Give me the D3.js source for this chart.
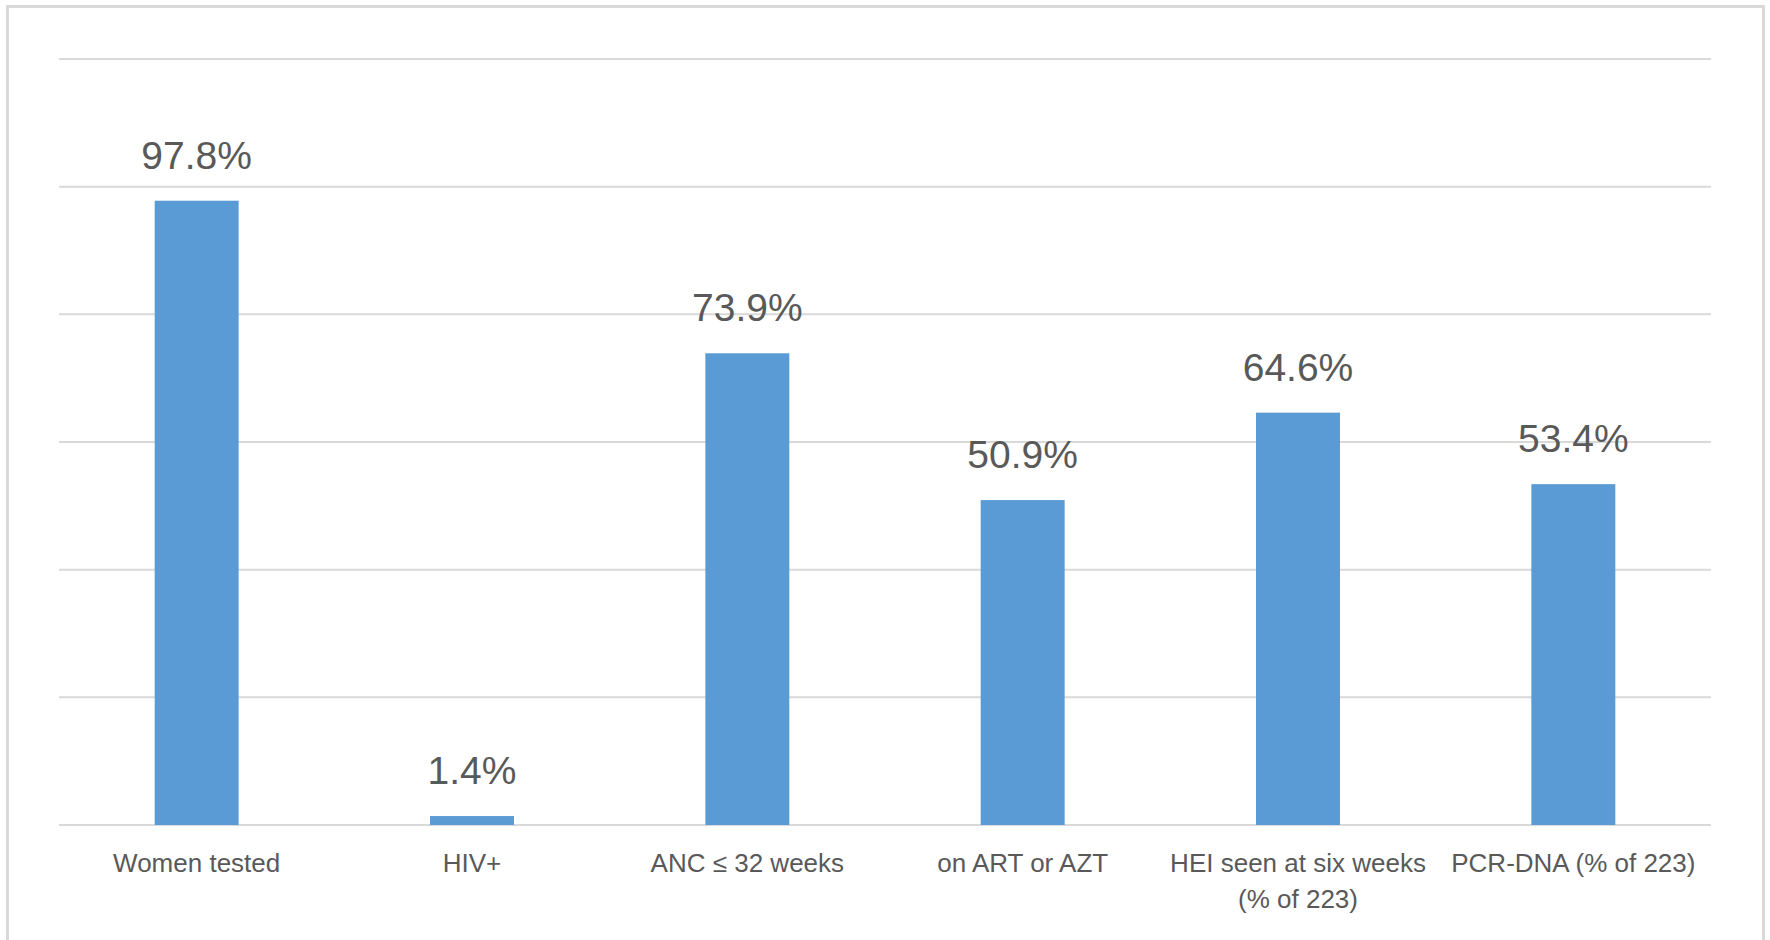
<!DOCTYPE html>
<html>
<head>
<meta charset="utf-8">
<script src="https://cdn.jsdelivr.net/npm/d3@7"></script>
<style>
  body { margin: 0; background: #fff; }
  svg { display: block; }
  .grid line { stroke: #d9d9d9; stroke-width: 2; }
  .val { font-family: "Liberation Sans", Arial, sans-serif; font-size: 39px; fill: #595959; }
  .cat { font-family: "Liberation Sans", Arial, sans-serif; font-size: 26px; fill: #595959; }
</style>
</head>
<body>
<div id="chart"></div>
<script>
// indicator names and percentages
var categories = ["Women tested", "HIV+", "ANC \u2264 32 weeks", "on ART or AZT",
                  "HEI seen at six weeks (% of 223)", "PCR-DNA (% of 223)"];
var percents = [97.8, 1.4, 73.9, 50.9, 64.6, 53.4];
var yTicks = [0, 20, 40, 60, 80, 100, 120];

var width = 1770, height = 940;
var margin = { top: 59, right: 59, bottom: 115, left: 59 };

var svg = d3.select('#chart').append('svg')
    .attr('width', width)
    .attr('height', height);

// chart frame
svg.append('rect')
    .attr('x', 7.5).attr('y', 6.5)
    .attr('width', 1756).attr('height', 960)
    .attr('fill', 'none')
    .attr('stroke', '#d9d9d9')
    .attr('stroke-width', 3);

var x = d3.scaleBand()
    .domain(categories)
    .range([margin.left, width - margin.right])
    .paddingInner(0.695)
    .paddingOuter(0.3475);

var y = d3.scaleLinear()
    .domain([0, 120])
    .range([height - margin.bottom, margin.top]);

// horizontal gridlines (no tick labels in the original)
svg.append('g')
    .attr('class', 'grid')
    .selectAll('line')
    .data(yTicks).enter()
  .append('line')
    .attr('x1', margin.left).attr('x2', width - margin.right)
    .attr('y1', function(d) { return y(d); })
    .attr('y2', function(d) { return y(d); });

// bars
svg.selectAll('.bar')
    .data(percents).enter()
  .append('rect')
    .attr('class', 'bar')
    .attr('x', function(d, i) { return x(categories[i]); })
    .attr('y', function(d) { return y(d); })
    .attr('width', x.bandwidth())
    .attr('height', function(d) { return y(0) - y(d); })
    .attr('fill', '#5b9bd5');

// value labels
svg.selectAll('.val')
    .data(percents).enter()
  .append('text')
    .attr('class', 'val')
    .attr('text-anchor', 'middle')
    .attr('x', function(d, i) { return x(categories[i]) + x.bandwidth() / 2; })
    .attr('y', function(d) { return y(d) - 32; })
    .text(function(d) { return d.toFixed(1) + '%'; });

// category labels, wrapped to the category width
var xAxis = svg.append('g')
    .attr('transform', 'translate(0,' + y(0) + ')')
    .call(d3.axisBottom(x).tickSize(0).tickPadding(0));
xAxis.select('.domain').remove();
xAxis.selectAll('.tick text')
    .attr('class', 'cat')
    .attr('font-size', null)
    .attr('font-family', null)
    .attr('fill', null)
    .attr('dy', null)
    .attr('y', 47)
    .call(wrap, x.step() - 6);

function wrap(texts, w) {
  texts.each(function() {
    var text = d3.select(this);
    var words = text.text().split(/\s+/);
    var line = [];
    var lineNo = 0;
    var yy = text.attr('y');
    text.text(null);
    var tspan = text.append('tspan').attr('x', 0).attr('y', yy);
    words.forEach(function(word) {
      line.push(word);
      tspan.text(line.join(' '));
      if (tspan.node().getComputedTextLength() > w && line.length > 1) {
        line.pop();
        tspan.text(line.join(' '));
        line = [word];
        lineNo++;
        tspan = text.append('tspan').attr('x', 0).attr('y', +yy + lineNo * 36).text(word);
      }
    });
  });
}
</script>
</body>
</html>
